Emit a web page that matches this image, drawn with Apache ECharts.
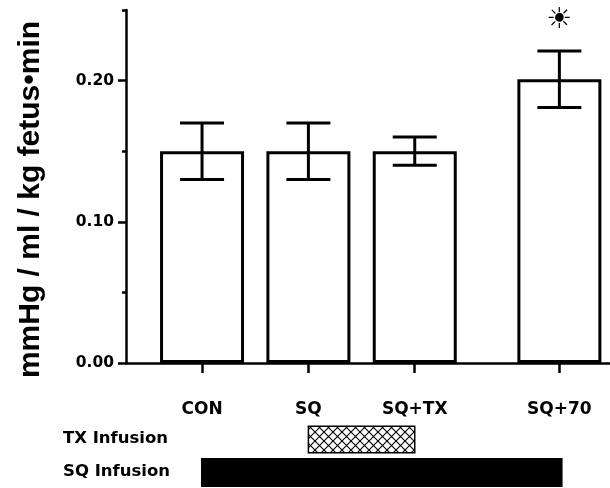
<!DOCTYPE html>
<html><head><meta charset="utf-8">
<script src="https://cdn.jsdelivr.net/npm/echarts@6/dist/echarts.min.js"></script>
<style>html,body{margin:0;padding:0;background:#fff}#c{width:610px;height:488px}</style>
</head><body><div id="c"></div>
<script>
// ---- data ----
const categories = ['CON', 'SQ', 'SQ+TX', 'SQ+70'];
const xPos = [1, 2, 3, 4.36];
const means = [0.150, 0.150, 0.150, 0.201];
const errors = [0.020, 0.020, 0.010, 0.020];
const yTickValues = [0, 0.1, 0.2];
const yMinorTickValues = [0.05, 0.15, 0.25];
const infusionNames = ['TX Infusion', 'SQ Infusion'];
const infusionStart = [2, 0.99];
const infusionEnd = [3, 4.39];
const sigMark = '\u2600';
const yAxisTitle = 'mmHg / ml / kg fetus\u2022min';

// ---- hatch pattern ----
const pc = document.createElement('canvas');
pc.width = 9; pc.height = 9;
const g = pc.getContext('2d');
g.fillStyle = '#fff'; g.fillRect(0, 0, 9, 9);
g.strokeStyle = '#000'; g.lineWidth = 1.1;
g.beginPath();
g.moveTo(0, 0); g.lineTo(9, 9);
g.moveTo(9, 0); g.lineTo(0, 9);
g.stroke();

const FONT = 'DejaVu Sans';
const chart = echarts.init(document.getElementById('c'), null, { renderer: 'canvas' });

const xMin = 0.285, xMax = 4.836;

chart.setOption({
  animation: false,
  backgroundColor: '#fff',
  grid: [
    { left: 126, right: 0, top: 10, height: 353 },
    { left: 126, right: 0, top: 422, height: 66 }
  ],
  xAxis: [
    {
      gridIndex: 0, type: 'value', min: xMin, max: xMax,
      splitLine: { show: false },
      axisLine: { show: true, lineStyle: { color: '#000', width: 2.5 } },
      axisTick: { show: true, customValues: xPos, length: 10, lineStyle: { color: '#000', width: 2.5 } },
      axisLabel: {
        customValues: xPos, margin: 38,
        formatter: v => { const i = xPos.findIndex(p => Math.abs(p - v) < 1e-6); return i >= 0 ? categories[i] : ''; },
        color: '#000', fontFamily: FONT, fontWeight: 'bold', fontSize: 17
      }
    },
    {
      gridIndex: 1, type: 'value', min: xMin, max: xMax, show: false
    }
  ],
  yAxis: [
    {
      gridIndex: 0, type: 'value', min: 0, max: 0.25,
      name: yAxisTitle, nameLocation: 'middle', nameRotate: 90, nameGap: 80,
      nameTextStyle: { color: '#000', fontFamily: 'Liberation Sans', fontWeight: 'bold', fontSize: 30, padding: [0, 26, 0, 0] },
      splitLine: { show: false },
      axisLine: { show: true, lineStyle: { color: '#000', width: 2.5 } },
      axisTick: { show: true, customValues: yTickValues, length: 8, lineStyle: { color: '#000', width: 2.5 } },
      axisLabel: {
        customValues: yTickValues, margin: 12,
        formatter: v => v.toFixed(2),
        color: '#000', fontFamily: FONT, fontWeight: 'bold', fontSize: 15.5
      }
    },
    {
      gridIndex: 0, type: 'value', min: 0, max: 0.25, position: 'left',
      splitLine: { show: false },
      axisLine: { show: false },
      axisLabel: { show: false },
      axisTick: { show: true, customValues: yMinorTickValues, length: 4, lineStyle: { color: '#000', width: 2.5 } }
    },
    {
      gridIndex: 1, type: 'category', data: infusionNames, inverse: true,
      axisLine: { show: false }, axisTick: { show: false }, splitLine: { show: false },
      axisLabel: { align: 'left', margin: 63, color: '#000', fontFamily: FONT, fontWeight: 'bold', fontSize: 16.5 }
    }
  ],
  series: [
    {
      type: 'bar', xAxisIndex: 0, yAxisIndex: 0,
      data: xPos.map((x, i) => [x, means[i]]),
      barWidth: 84,
      itemStyle: { color: '#fff', borderColor: '#000', borderWidth: 3 },
      z: 2
    },
    {
      type: 'custom', xAxisIndex: 0, yAxisIndex: 0,
      data: xPos.map((x, i) => [x, means[i], errors[i]]),
      z: 3,
      renderItem: (params, api) => {
        const x = api.value(0), m = api.value(1), e = api.value(2);
        const t = api.coord([x, m + e]);
        const b = api.coord([x, m - e]);
        const hw = 22;
        const st = { stroke: '#000', lineWidth: 3 };
        return {
          type: 'group', children: [
            { type: 'line', shape: { x1: t[0], y1: t[1], x2: b[0], y2: b[1] }, style: st },
            { type: 'line', shape: { x1: t[0] - hw, y1: t[1], x2: t[0] + hw, y2: t[1] }, style: st },
            { type: 'line', shape: { x1: b[0] - hw, y1: b[1], x2: b[0] + hw, y2: b[1] }, style: st }
          ]
        };
      }
    },
    {
      type: 'custom', xAxisIndex: 0, yAxisIndex: 0,
      data: [[xPos[3], means[3] + errors[3]]],
      z: 3,
      renderItem: (params, api) => {
        const p = api.coord([api.value(0), api.value(1)]);
        return {
          type: 'text', x: p[0], y: p[1] - 30,
          style: { text: sigMark, fill: '#000', fontFamily: FONT, fontSize: 29, align: 'center', verticalAlign: 'middle' }
        };
      }
    },
    {
      type: 'custom', xAxisIndex: 1, yAxisIndex: 2,
      data: infusionNames.map((n, i) => [infusionStart[i], infusionEnd[i], i]),
      encode: { x: [0, 1], y: 2 },
      renderItem: (params, api) => {
        const row = api.value(2);
        const s = api.coord([api.value(0), row]);
        const e = api.coord([api.value(1), row]);
        const h = api.size([0, 1])[1] * (row === 0 ? 0.8 : 0.88);
        const style = row === 0
          ? { fill: { image: pc, repeat: 'repeat' }, stroke: '#000', lineWidth: 1.5 }
          : { fill: '#000' };
        return { type: 'rect', shape: { x: s[0], y: s[1] - h / 2 + 1, width: e[0] - s[0], height: h }, style };
      }
    }
  ]
});
</script>
</body></html>
